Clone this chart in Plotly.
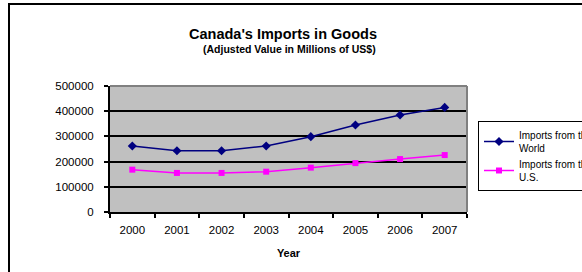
import plotly.graph_objects as go

years = ["2000", "2001", "2002", "2003", "2004", "2005", "2006", "2007"]
world = [262000, 243000, 243000, 262000, 299000, 345000, 385000, 415000]
us = [168000, 155000, 155000, 160000, 176000, 194000, 210000, 226000]
y_ticks = [0, 100000, 200000, 300000, 400000, 500000]

fig = go.Figure()
fig.add_trace(go.Scatter(
    x=years, y=world, mode="lines+markers", name="Imports from the<br>World",
    line=dict(color="#000080", width=1.5),
    marker=dict(symbol="diamond", size=7, color="#000080"),
))
fig.add_trace(go.Scatter(
    x=years, y=us, mode="lines+markers", name="Imports from the<br>U.S.",
    line=dict(color="#FF00FF", width=1.5),
    marker=dict(symbol="square", size=6, color="#FF00FF"),
))

L, R, T, B = 110, 467, 86, 212
W, H = 582, 272
pw, ph = R - L, B - T

def px(x):
    return (x - L) / pw

def py(y):
    return (B - y) / ph

fig.update_layout(
    width=W, height=H,
    margin=dict(l=L, r=W - R, t=T, b=H - B, autoexpand=False),
    paper_bgcolor="white",
    plot_bgcolor="#C0C0C0",
    font=dict(family="Liberation Sans, Arial, sans-serif", color="black", size=11),
    showlegend=True,
    legend=dict(
        x=px(478), y=py(121), xanchor="left", yanchor="top",
        bgcolor="white", bordercolor="black", borderwidth=1,
        font=dict(size=10), tracegroupgap=0,
    ),
    xaxis=dict(
        type="category", tickson="boundaries",
        showline=True, linecolor="black", linewidth=2,
        ticks="outside", ticklen=4, tickcolor="black", tickwidth=2,
        showgrid=False, zeroline=False,
        tickfont=dict(size=11.5),
        ticklabelstandoff=6,
        title=dict(text="<b>Year</b>", font=dict(size=11), standoff=15),
        range=[-0.5, 7.5],
    ),
    yaxis=dict(
        range=[0, 500000], tickvals=y_ticks,
        ticktext=[str(v) for v in y_ticks],
        showline=True, linecolor="black", linewidth=2,
        ticks="outside", ticklen=4, tickcolor="black", tickwidth=2,
        showgrid=True, gridcolor="black", gridwidth=2,
        zeroline=False,
        tickfont=dict(size=11.5),
        ticklabelstandoff=8,
    ),
    shapes=[
        dict(type="line", xref="paper", yref="paper", x0=0, x1=1, y0=1, y1=1,
             line=dict(color="#808080", width=2)),
        dict(type="line", xref="paper", yref="paper", x0=1, x1=1, y0=0, y1=1,
             line=dict(color="#808080", width=2)),
        dict(type="rect", xref="paper", yref="paper",
             x0=px(9), x1=px(600), y0=py(290), y1=py(4),
             line=dict(color="black", width=2), layer="below"),
    ],
    annotations=[
        dict(text="<b>Canada's Imports in Goods</b>", xref="paper", yref="paper",
             x=px(283), y=py(34), xanchor="center", yanchor="middle",
             showarrow=False, font=dict(size=14.5)),
        dict(text="<b>(Adjusted Value in Millions of US$)</b>", xref="paper", yref="paper",
             x=px(289), y=py(49.5), xanchor="center", yanchor="middle",
             showarrow=False, font=dict(size=10.5)),
    ],
)

fig.write_html(
    "out.html",
    config={"displayModeBar": False},
    post_script="document.body.style.margin='0';document.body.style.overflow='hidden';",
)
